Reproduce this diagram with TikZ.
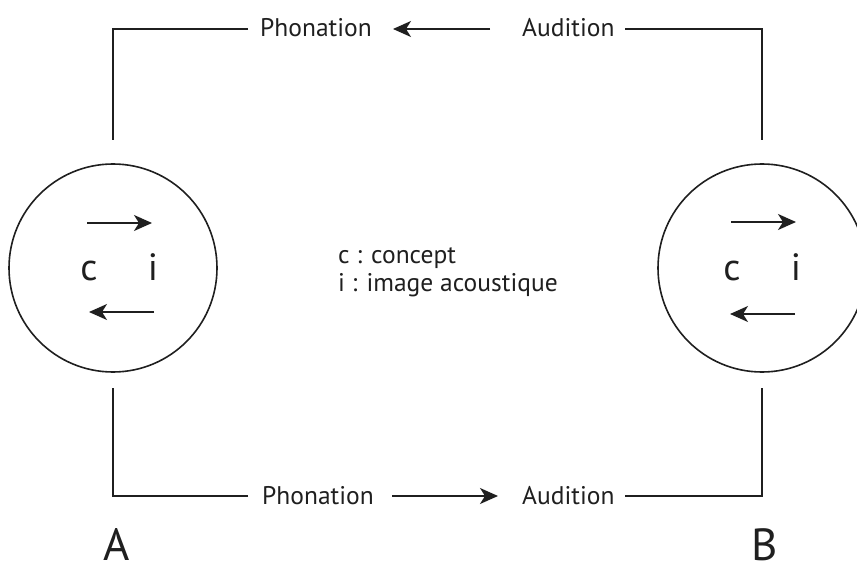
\documentclass[tikz,border=0pt]{standalone}
\usepackage{fontspec}
\setmainfont{PT Sans}
\usetikzlibrary{arrows.meta}
\begin{document}
\begin{tikzpicture}[x=1pt,y=-1pt,
  ln/.style={line width=1.6pt,black!88},
  ar/.style={line width=1.6pt,black!88,-{Stealth[length=18pt,width=16pt,inset=5pt]}},
  lab/.style={font=\fontsize{25.5}{28}\selectfont,inner sep=0pt,text=black!88},
  big/.style={font=\fontsize{38}{42}\selectfont,inner sep=0pt,text=black!88},
  huge/.style={font=\fontsize{45}{50}\selectfont,inner sep=0pt,text=black!88},
  ring/.style={circle,draw,line width=1.6pt,black!88,minimum size=208pt,inner sep=0pt}]
\useasboundingbox (0,0) rectangle (857,564);
% circles
\node[ring] (CA) at (113,268) {};
\node[ring] (CB) at (762,268) {};
% labels
\node[lab,anchor=base west] (PT) at (260,37) {Phonation};
\node[lab,anchor=base west] (AT) at (522,37) {Audition};
\node[lab,anchor=base west] (PB) at (262,504) {Phonation};
\node[lab,anchor=base west] (AB) at (522,504) {Audition};
% corners
\coordinate (TL) at (113,29);
\coordinate (TR) at (762,29);
\coordinate (BL) at (113,496);
\coordinate (BR) at (762,496);
\coordinate (TLs) at (248,29);
\coordinate (TRs) at (625,29);
\coordinate (BLs) at (248,496);
\coordinate (BRs) at (625,496);
\draw[ln] (TLs) -- (TL) -- (113,140);
\draw[ln] (TRs) -- (TR) -- (762,140);
\draw[ln] (BLs) -- (BL) -- (113,388);
\draw[ln] (BRs) -- (BR) -- (762,388);
\coordinate (a1s) at (490,29); \coordinate (a1e) at (393,29);
\draw[ar] (a1s) -- (a1e);
\coordinate (a2s) at (392,496); \coordinate (a2e) at (498,496);
\draw[ar] (a2s) -- (a2e);
% inside circles
\node[big,anchor=base] (cA) at (89,280) {c};
\node[big,anchor=base] (iA) at (153,280) {i};
\node[big,anchor=base] (cB) at (732,280) {c};
\node[big,anchor=base] (iB) at (796,280) {i};
\coordinate (A1s) at (87,223); \coordinate (A1e) at (152,223);
\coordinate (A2s) at (154,312); \coordinate (A2e) at (89,312);
\coordinate (B1s) at (731,222); \coordinate (B1e) at (796,222);
\coordinate (B2s) at (795,314); \coordinate (B2e) at (730,314);
\draw[ar] (A1s) -- (A1e);
\draw[ar] (A2s) -- (A2e);
\draw[ar] (B1s) -- (B1e);
\draw[ar] (B2s) -- (B2e);
% legend
\node[lab,anchor=base west] (L1) at (338,263) {c : concept};
\node[lab,anchor=base west] (L2) at (338,291) {i : image acoustique};
% A B
\node[huge,anchor=base] (A) at (117,560) {A};
\node[huge,anchor=base] (B) at (765,560) {B};
\end{tikzpicture}
\end{document}
